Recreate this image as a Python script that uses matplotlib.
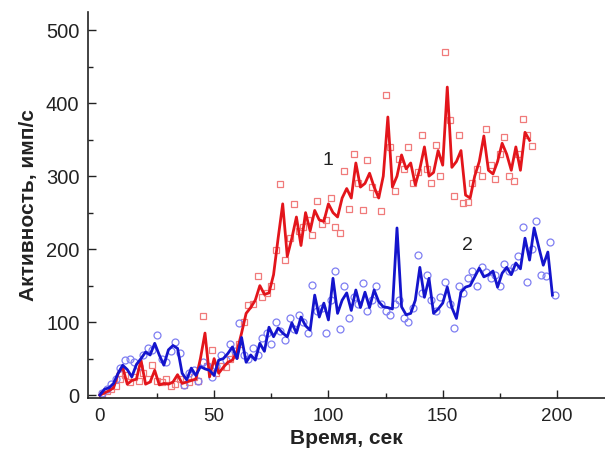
import matplotlib
matplotlib.use("Agg")
import matplotlib.pyplot as plt
from matplotlib.ticker import MultipleLocator

# ---- data ----
red_line_t = list(range(0, 189, 2))
red_line_v = [0, 3, 6, 10, 30, 38, 15, 20, 22, 48, 15, 18, 34, 14, 16, 15, 18, 28, 16, 18,
              20, 22, 50, 85, 25, 50, 30, 38, 45, 48, 60, 85, 112, 120, 130, 150, 138, 140, 165, 215,
              262, 190, 215, 244, 205, 250, 225, 253, 240, 238, 262, 250, 244, 270, 283, 270, 318, 285, 290, 304,
              285, 270, 300, 381, 285, 300, 329, 310, 318, 288, 310, 340, 300, 305, 335, 315, 422, 312, 320, 335,
              274, 270, 300, 320, 355, 308, 303, 320, 345, 330, 308, 340, 308, 360, 349]

red_pts_t = list(range(1, 190, 2))
red_pts_v = [2, 5, 8, 12, 22, 28, 18, 25, 20, 30, 22, 41, 20, 18, 22, 12, 15, 22, 14, 18,
             25, 20, 108, 40, 62, 30, 40, 38, 50, 55, 70, 100, 123, 125, 163, 135, 140, 150, 199, 289,
             185, 215, 262, 225, 230, 240, 219, 266, 235, 240, 270, 230, 222, 307, 255, 331, 290, 253, 322, 285,
             275, 252, 411, 340, 280, 323, 310, 340, 290, 305, 357, 310, 290, 342, 300, 470, 377, 273, 357, 263,
             265, 290, 310, 300, 364, 315, 296, 330, 354, 300, 293, 330, 378, 357, 341]

blue_line_t = list(range(0, 199, 2))
blue_line_v = [0, 8, 10, 16, 30, 41, 35, 25, 42, 50, 59, 55, 71, 55, 41, 62, 68, 64, 30, 21,
               37, 27, 39, 36, 34, 27, 48, 50, 57, 66, 50, 79, 45, 55, 48, 71, 60, 93, 80, 92,
               85, 80, 99, 85, 107, 95, 89, 137, 107, 126, 103, 160, 112, 130, 140, 116, 144, 120, 141, 120,
               144, 128, 121, 120, 118, 229, 121, 110, 112, 130, 175, 134, 160, 112, 118, 126, 148, 120, 105, 141,
               148, 150, 162, 174, 162, 165, 170, 148, 167, 175, 165, 181, 173, 215, 185, 229, 203, 178, 196, 137]

blue_pts_t = list(range(1, 200, 2))
blue_pts_v = [3, 8, 15, 22, 37, 48, 50, 45, 40, 55, 65, 62, 82, 50, 45, 60, 73, 58, 14, 30,
              35, 20, 45, 40, 25, 40, 55, 48, 70, 60, 99, 55, 50, 65, 55, 78, 85, 70, 100, 88,
              75, 105, 90, 110, 100, 85, 151, 115, 120, 85, 130, 170, 90, 150, 105, 135, 125, 153, 115, 130,
              150, 125, 115, 110, 125, 130, 105, 100, 120, 192, 140, 165, 130, 115, 135, 155, 125, 92, 150, 140,
              160, 170, 150, 175, 168, 160, 165, 150, 180, 170, 175, 190, 230, 155, 200, 238, 165, 163, 210, 137]

labels = [("1", 100, 322), ("2", 161, 205)]
x_ticks = [0, 50, 100, 150, 200]
y_ticks = [0, 100, 200, 300, 400, 500]

plt.rcParams['font.family'] = ['Liberation Sans', 'DejaVu Sans']

fig = plt.figure(figsize=(6.05, 4.57), dpi=100)
ax = fig.add_axes([0.145, 0.129, 0.855, 0.845])

ax.plot(red_pts_t, red_pts_v, linestyle='none', marker='s', markersize=4.5,
        markerfacecolor='none', markeredgecolor='#f07a7a', markeredgewidth=0.9)
ax.plot(blue_pts_t, blue_pts_v, linestyle='none', marker='o', markersize=5,
        markerfacecolor='none', markeredgecolor='#7f7ff2', markeredgewidth=0.9)
ax.plot(red_line_t, red_line_v, color='#e3151b', linewidth=2.0)
ax.plot(blue_line_t, blue_line_v, color='#1414cc', linewidth=2.0)

for txt, x, y in labels:
    ax.text(x, y, txt, fontsize=14, ha='center', va='center', color='#222222')

ax.set_xlim(-5.3, 221)
ax.set_ylim(-4, 525)
ax.set_xticks(x_ticks)
ax.set_yticks(y_ticks)
ax.xaxis.set_minor_locator(MultipleLocator(25))
ax.yaxis.set_minor_locator(MultipleLocator(50))
ax.tick_params(which='major', direction='in', length=6, width=1, colors='#222222')
ax.tick_params(which='minor', direction='in', length=3.5, width=1, colors='#222222')
ax.tick_params(axis='x', pad=7, labelsize=13.5)
ax.tick_params(axis='y', pad=6, labelsize=14.5)

for s in ['top', 'right']:
    ax.spines[s].set_visible(False)
for s in ['left', 'bottom']:
    ax.spines[s].set_linewidth(1.2)
    ax.spines[s].set_color('#222222')

ax.set_xlabel('Время, сек', fontsize=15, fontweight='bold', labelpad=3, color='#222222')
ax.set_ylabel('Активность, имп/с', fontsize=15, fontweight='bold', labelpad=6, color='#222222')

fig.savefig('out.png', dpi=100)
